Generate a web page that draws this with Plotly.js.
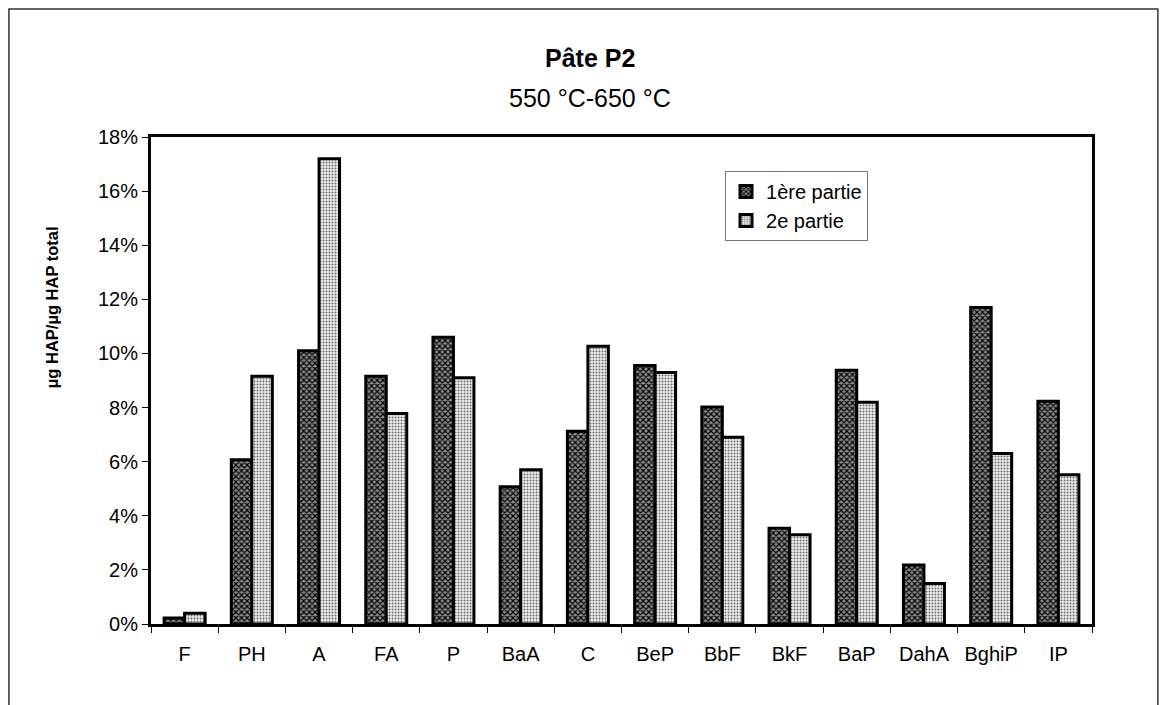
<!DOCTYPE html>
<html>
<head>
<meta charset="utf-8">
<script src="https://cdn.plot.ly/plotly-3.0.1.min.js"></script>
<style>
  html, body { margin: 0; padding: 0; background: #ffffff; }
  #chart { width: 1167px; height: 705px; }
</style>
</head>
<body>
<div id="chart"></div>
<script>
// Data (percent of total PAH)
const categories = ["F", "PH", "A", "FA", "P", "BaA", "C", "BeP", "BbF", "BkF", "BaP", "DahA", "BghiP", "IP"];
const partie1 = [0.22, 6.07, 10.1, 9.16, 10.6, 5.07, 7.12, 9.55, 8.02, 3.54, 9.38, 2.18, 11.7, 8.23];
const partie2 = [0.40, 9.16, 17.2, 7.78, 9.1, 5.70, 10.27, 9.30, 6.90, 3.30, 8.20, 1.50, 6.30, 5.52];
const seriesNames = ["1ère partie", "2e partie"];
const yTickVals = [0, 2, 4, 6, 8, 10, 12, 14, 16, 18];

const FONT = "Arial, 'Liberation Sans', sans-serif";

const traces = [
  {
    type: "bar",
    name: seriesNames[0],
    x: categories,
    y: partie1,
    marker: {
      color: "#6a6a6a",
      line: { color: "#000000", width: 3 },
      pattern: { shape: "x", fgcolor: "#000000", bgcolor: "#8c8c8c", size: 4, solidity: 0.5 }
    }
  },
  {
    type: "bar",
    name: seriesNames[1],
    x: categories,
    y: partie2,
    marker: {
      color: "#e0e0e0",
      line: { color: "#000000", width: 3 },
      pattern: { shape: ".", fgcolor: "#6a6a6a", bgcolor: "#f0f0f0", size: 3, solidity: 0.35 }
    }
  }
];

const layout = {
  width: 1167,
  height: 705,
  margin: { l: 151, r: 75, t: 137, b: 81 },
  paper_bgcolor: "#ffffff",
  plot_bgcolor: "#ffffff",
  font: { family: FONT, size: 20, color: "#000000" },
  barmode: "group",
  bargap: 0.39,
  bargroupgap: 0,
  showlegend: true,
  legend: {
    x: 0.61, y: 0.93, xanchor: "left", yanchor: "top",
    bgcolor: "#ffffff",
    bordercolor: "#777777",
    borderwidth: 1,
    font: { family: FONT, size: 20, color: "#000000" },
    itemwidth: 30,
    tracegroupgap: 4
  },
  xaxis: {
    type: "category",
    showline: true, linecolor: "#000000", linewidth: 3,
    mirror: true,
    ticks: "outside", tickson: "boundaries", ticklen: 6, tickcolor: "#000000", tickwidth: 1,
    ticklabelstandoff: 10,
    tickfont: { family: FONT, size: 20, color: "#000000" },
    showgrid: false,
    zeroline: false,
    fixedrange: true
  },
  yaxis: {
    range: [0, 18],
    tickvals: yTickVals,
    ticktext: yTickVals.map(v => v + "%"),
    showline: true, linecolor: "#000000", linewidth: 3,
    mirror: true,
    ticks: "outside", ticklen: 6, tickcolor: "#000000", tickwidth: 1,
    tickfont: { family: FONT, size: 20, color: "#000000" },
    showgrid: false,
    zeroline: false,
    fixedrange: true
  },
  annotations: [
    {
      text: "<b>Pâte P2</b>",
      xref: "paper", yref: "paper", x: 0.4665, y: 1.162,
      xanchor: "center", yanchor: "middle", showarrow: false,
      font: { family: FONT, size: 25, color: "#000000" }
    },
    {
      text: "550 °C-650 °C",
      xref: "paper", yref: "paper", x: 0.4665, y: 1.080,
      xanchor: "center", yanchor: "middle", showarrow: false,
      font: { family: FONT, size: 25, color: "#000000" }
    },
    {
      text: "<b>µg HAP/µg HAP total</b>",
      xref: "paper", yref: "paper", x: -0.105, y: 0.651,
      xanchor: "center", yanchor: "middle", showarrow: false, textangle: -90,
      font: { family: FONT, size: 16.5, color: "#000000" }
    }
  ],
  shapes: [
    {
      type: "rect", xref: "paper", yref: "paper",
      x0: -0.151, x1: 1.070, y0: -0.25, y1: 1.263,
      line: { color: "#333333", width: 1.5 },
      fillcolor: "rgba(0,0,0,0)",
      layer: "below"
    }
  ]
};

Plotly.newPlot("chart", traces, layout, { displayModeBar: false, staticPlot: true });
</script>
</body>
</html>
